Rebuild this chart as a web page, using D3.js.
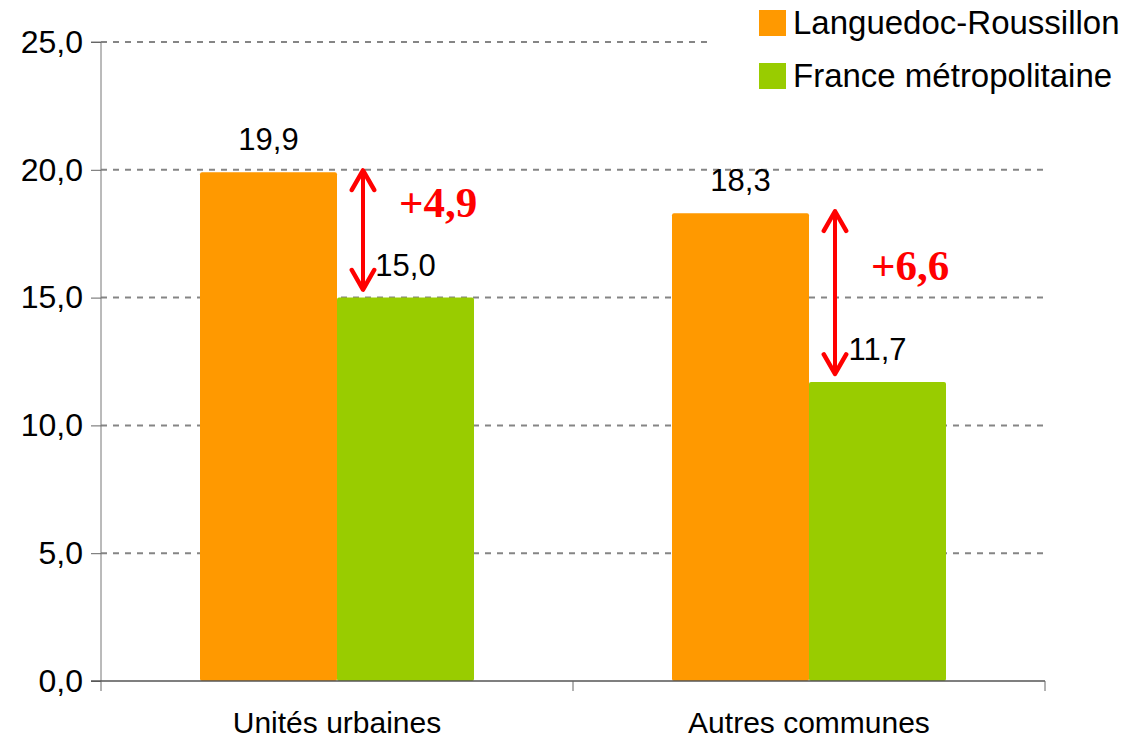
<!DOCTYPE html>
<html>
<head>
<meta charset="utf-8">
<script src="https://cdn.jsdelivr.net/npm/d3@7"></script>
<style>
  body { margin: 0; background: #fff; }
  text { font-family: "Liberation Sans", Arial, sans-serif; }
</style>
</head>
<body>
<svg id="chart"></svg>
<script>
const categories = ["Unités urbaines", "Autres communes"];
const seriesNames = ["Languedoc-Roussillon", "France métropolitaine"];
const languedoc = [19.9, 18.3];
const france = [15.0, 11.7];
const ecarts = ["+4,9", "+6,6"];
const yTicks = [0, 5, 10, 15, 20, 25];

const colorMap = {
    "Languedoc-Roussillon": "#FF9900",
    "France métropolitaine": "#99CC00"
};

const width = 1124, height = 740;
const plotLeft = 101, plotRight = 1045, plotTop = 42, plotBottom = 681;

const svg = d3.select("#chart")
    .attr("width", width)
    .attr("height", height);

const fr = d3.formatLocale({ decimal: ",", thousands: " ", grouping: [3], currency: ["", " €"] });
const fmt = fr.format(".1f");

const x = d3.scaleBand().domain(categories).range([plotLeft, plotRight]).padding(0);
const x1 = d3.scaleBand().domain(seriesNames).range([99, x.bandwidth() - 99]).padding(0);
const y = d3.scaleLinear().domain([0, 25]).range([plotBottom, plotTop]);

// gridlines
svg.append("g")
    .selectAll("line")
    .data(yTicks.filter(d => d > 0))
    .enter().append("line")
    .attr("x1", plotLeft)
    .attr("x2", plotRight)
    .attr("y1", d => y(d))
    .attr("y2", d => y(d))
    .attr("stroke", "#858585")
    .attr("stroke-width", 2)
    .attr("stroke-dasharray", "6,6");

// bars
const rows = categories.map((c, i) => ({ cat: c, values: [
    { name: seriesNames[0], v: languedoc[i] },
    { name: seriesNames[1], v: france[i] }
]}));

const group = svg.append("g")
    .selectAll("g")
    .data(rows)
    .enter().append("g")
    .attr("transform", d => `translate(${x(d.cat)},0)`);

group.selectAll("rect")
    .data(d => d.values)
    .enter().append("rect")
    .attr("x", d => x1(d.name))
    .attr("width", x1.bandwidth())
    .attr("y", d => y(d.v))
    .attr("height", d => y(0) - y(d.v))
    .attr("rx", 2)
    .attr("fill", d => colorMap[d.name]);

group.selectAll("text.val")
    .data(d => d.values)
    .enter().append("text")
    .attr("class", "val")
    .attr("x", d => x1(d.name) + x1.bandwidth() / 2)
    .attr("y", d => y(d.v) - 22)
    .attr("text-anchor", "middle")
    .attr("font-size", "31px")
    .attr("fill", "#000")
    .text(d => fmt(d.v));

// y axis
const yAxis = svg.append("g")
    .attr("transform", `translate(${plotLeft},0)`)
    .call(d3.axisLeft(y).tickValues(yTicks).tickSize(10).tickPadding(8).tickFormat(fmt));
yAxis.selectAll("text").attr("font-size", "32px").attr("fill", "#000");
yAxis.selectAll("line").attr("stroke", "#666");
yAxis.select(".domain").attr("stroke", "#777").attr("d", `M-10,${plotTop}H0V${plotBottom}`);

// x axis
const xg = svg.append("g");
xg.append("line")
    .attr("x1", plotLeft - 10).attr("x2", plotRight)
    .attr("y1", plotBottom).attr("y2", plotBottom)
    .attr("stroke", "#555").attr("stroke-width", 1.5);
const bounds = categories.map(c => x(c)).concat([x(categories[categories.length - 1]) + x.bandwidth()]);
xg.selectAll("line.tick")
    .data(bounds)
    .enter().append("line")
    .attr("class", "tick")
    .attr("x1", d => d).attr("x2", d => d)
    .attr("y1", plotBottom).attr("y2", plotBottom + 10)
    .attr("stroke", "#666");
xg.selectAll("text")
    .data(categories)
    .enter().append("text")
    .attr("x", d => x(d) + x.bandwidth() / 2)
    .attr("y", plotBottom + 52)
    .attr("text-anchor", "middle")
    .attr("font-size", "30px")
    .attr("fill", "#000")
    .text(d => d);

// difference arrows
svg.append("defs").append("marker")
    .attr("id", "head")
    .attr("viewBox", "0 0 20 20")
    .attr("refX", 17).attr("refY", 10)
    .attr("markerWidth", 7).attr("markerHeight", 7)
    .attr("markerUnits", "strokeWidth")
    .attr("orient", "auto-start-reverse")
    .append("path")
    .attr("d", "M3,2 L17,10 L3,18")
    .attr("fill", "none")
    .attr("stroke", "#FF0000")
    .attr("stroke-width", 3.2)
    .attr("stroke-linecap", "round")
    .attr("stroke-linejoin", "round");

categories.forEach((c, i) => {
    const ax = x(c) + x1(seriesNames[0]) + x1.bandwidth() + 26;
    const y1 = y(languedoc[i]) - 4;
    const y2 = y(france[i]) - 6;
    svg.append("line")
        .attr("x1", ax).attr("x2", ax)
        .attr("y1", y1 + 2).attr("y2", y2 - 2)
        .attr("stroke", "#FF0000")
        .attr("stroke-width", 4)
        .attr("marker-start", "url(#head)")
        .attr("marker-end", "url(#head)");
    svg.append("text")
        .attr("x", ax + 36)
        .attr("y", (y1 + y2) / 2 - 13)
        .style("font-family", "'Liberation Serif', 'Times New Roman', serif")
        .style("font-weight", "bold")
        .style("font-size", "43px")
        .attr("fill", "#FF0000")
        .text(ecarts[i]);
});

// legend
const legend = svg.append("g");
legend.append("rect")
    .attr("x", 712).attr("y", 0)
    .attr("width", width - 712).attr("height", 100)
    .attr("fill", "#fff");
const li = legend.selectAll("g")
    .data(seriesNames)
    .enter().append("g")
    .attr("transform", (d, i) => `translate(759,${10 + i * 53})`);
li.append("rect")
    .attr("width", 27).attr("height", 26)
    .attr("fill", d => colorMap[d]);
li.append("text")
    .attr("x", 34).attr("y", 24)
    .attr("font-size", "33px")
    .attr("fill", "#000")
    .text(d => d);
</script>
</body>
</html>
